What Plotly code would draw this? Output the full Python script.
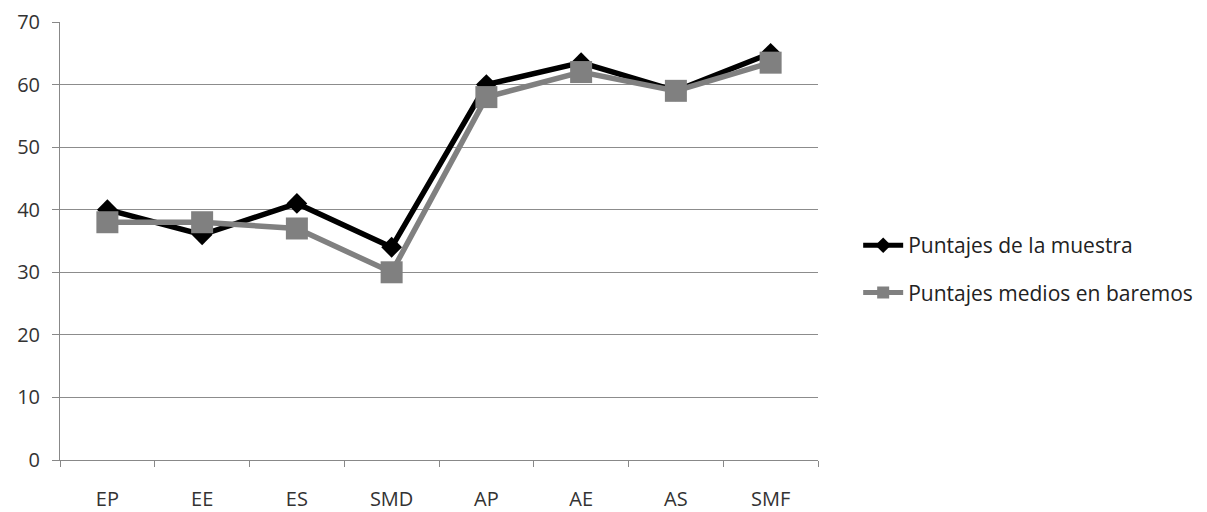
import plotly.graph_objects as go

categorias = ["EP", "EE", "ES", "SMD", "AP", "AE", "AS", "SMF"]
puntajes_muestra = [40, 36, 41, 34, 60, 63.5, 59, 65]
puntajes_baremos = [38, 38, 37, 30, 58, 62, 59, 63.5]

fig = go.Figure()
fig.add_trace(go.Scatter(
    x=categorias, y=puntajes_muestra, name="Puntajes de la muestra",
    mode="lines+markers", legendgroup="muestra",
    line=dict(color="#000000", width=5.5),
    marker=dict(symbol="diamond", size=16, color="#000000"),
))
fig.add_trace(go.Scatter(
    x=categorias, y=puntajes_baremos, name="Puntajes medios en baremos",
    mode="lines+markers", legendgroup="baremos",
    line=dict(color="#808080", width=5.5),
    marker=dict(symbol="square", size=22, color="#808080"),
))

fig.update_layout(
    width=1207, height=512,
    margin=dict(l=60, r=389, t=22, b=52, autoexpand=False),
    paper_bgcolor="white", plot_bgcolor="white",
    font=dict(family="Open Sans, Liberation Sans, sans-serif", size=20, color="#333333"),
    legend=dict(x=1.053, y=0.436, yanchor="middle", xanchor="left",
                font=dict(size=21, color="#222222"), tracegroupgap=17,
                itemsizing="constant", itemwidth=40),
    showlegend=True,
)
fig.update_xaxes(
    type="category", range=[-0.5, 7.5], automargin=False,
    showline=True, linecolor="#888888", linewidth=1,
    ticks="outside", tickson="boundaries", ticklen=6, tickcolor="#888888",
    showgrid=False, ticklabelstandoff=21,
)
fig.update_yaxes(
    range=[0, 70], dtick=10, automargin=False,
    showline=True, linecolor="#888888", linewidth=1,
    ticks="outside", ticklen=7, tickcolor="#888888",
    showgrid=True, gridcolor="#8c8c8c", gridwidth=1,
    zeroline=False, ticklabelstandoff=8,
)

fig.write_html("out.html")
